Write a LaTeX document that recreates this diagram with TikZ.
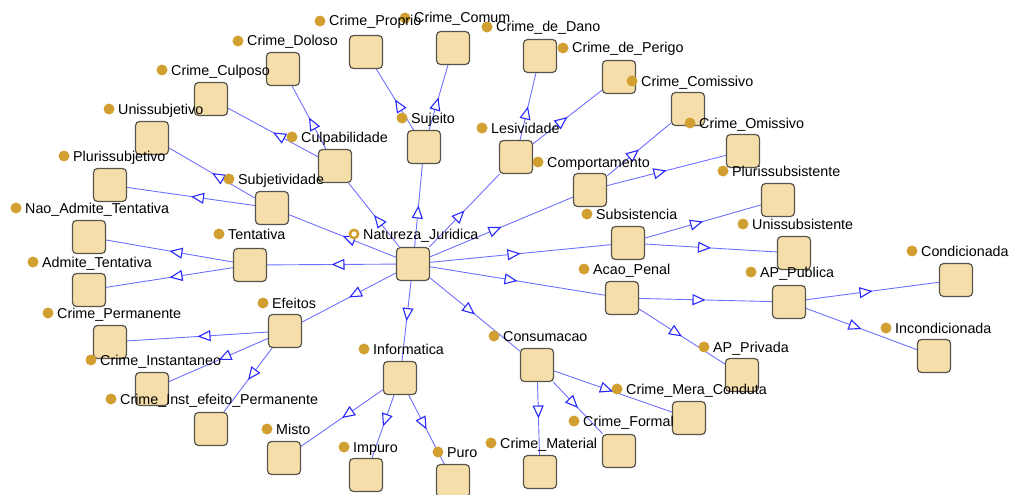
\documentclass[tikz,border=0pt]{standalone}
\usepackage{fontspec}
\setmainfont{Liberation Sans}
\usetikzlibrary{arrows.meta,decorations.markings}

\definecolor{boxfill}{RGB}{245,222,170}
\definecolor{boxline}{RGB}{88,84,76}
\definecolor{edgec}{RGB}{112,112,255}
\definecolor{tipc}{RGB}{40,40,255}
\definecolor{dotc}{RGB}{210,160,48}

\pgfdeclarelayer{links}
\pgfsetlayers{links,main}

\tikzset{
  cls/.style={draw=boxline, fill=boxfill, line width=1.2pt, rounded corners=4pt,
    minimum width=33pt, minimum height=33pt, inner sep=0pt},
  lbl/.style={inner sep=0pt, anchor=base west, font=\fontsize{14.3}{16}\selectfont},
  isa/.style={draw=edgec, line width=0.9pt, postaction={decorate},
    decoration={markings, mark=at position 0.5 with
      {\arrow[tipc, line width=1.1pt]{Triangle[open, length=13pt, width=11pt, fill=white]}}}}
}

% label of a class: gold dot followed by its name
\newcommand\clslabel[4]{%
  \fill[dotc] (#2,#3) circle (5.5pt);
  \node[lbl] (#1-l) at (#2+9,#3+5) {#4};}

\begin{document}
\begin{tikzpicture}[x=1pt,y=-1pt]
\useasboundingbox (0,0) rectangle (1012,495);

% classes
\foreach \n/\x/\y in {nat/413/264, tent/250/265, subj/272/208, culp/335/166,
  suj/424/147, les/516/157, comp/590/190, subs/628/243, acao/622/298,
  cons/537/365, info/400/378, efe/285/331, culposo/211/99, doloso/283/69,
  uniss/152/138, pluris/110/185, nao/89/237, adm/89/290, perm/110/342,
  inst/152/389, iep/211/429, misto/284/458, impuro/366/475, puro/453/481,
  material/540/472, formal/619/451, mera/689/418, priv/742/375, pub/789/302,
  cond/956/280, incond/934/356, unisub/794/253, plurisub/778/200,
  omis/743/151, comis/688/109, perigo/619/77, dano/540/56, comum/453/48,
  proprio/366/52}
  \node[cls] (\n) at (\x,\y) {};

% subclass links, beneath the boxes
\begin{pgfonlayer}{links}
\foreach \p/\c in {nat/tent, nat/subj, nat/culp, nat/suj, nat/les, nat/comp,
  nat/subs, nat/acao, nat/cons, nat/info, nat/efe,
  culp/culposo, culp/doloso, subj/uniss, subj/pluris, tent/nao, tent/adm,
  suj/proprio, suj/comum, les/dano, les/perigo, comp/comis, comp/omis,
  subs/plurisub, subs/unisub, acao/pub, acao/priv, pub/cond, pub/incond,
  cons/material, cons/formal, cons/mera, info/misto, info/impuro, info/puro,
  efe/perm, efe/inst, efe/iep}
  \draw[isa] (\p) -- (\c);
\end{pgfonlayer}

% labels
\fill[dotc] (354,234) circle (5.5pt);
\fill[white] (354,234) circle (2.6pt);
\node[lbl] (nat-l) at (363,239) {Natureza\_Juridica};
\clslabel{tent}{219}{234}{Tentativa}
\clslabel{subj}{229}{179}{Subjetividade}
\clslabel{culp}{292}{137}{Culpabilidade}
\clslabel{suj}{402}{118}{Sujeito}
\clslabel{les}{482}{128}{Lesividade}
\clslabel{comp}{538}{162}{Comportamento}
\clslabel{subs}{587}{214}{Subsistencia}
\clslabel{acao}{584}{269}{Acao\_Penal}
\clslabel{cons}{494}{336}{Consumacao}
\clslabel{info}{364}{349}{Informatica}
\clslabel{efe}{263}{303}{Efeitos}
\clslabel{culposo}{162}{70}{Crime\_Culposo}
\clslabel{doloso}{238}{41}{Crime\_Doloso}
\clslabel{uniss}{109}{109}{Unissubjetivo}
\clslabel{pluris}{64}{156}{Plurissubjetivo}
\clslabel{nao}{16}{208}{Nao\_Admite\_Tentativa}
\clslabel{adm}{33}{262}{Admite\_Tentativa}
\clslabel{perm}{48}{313}{Crime\_Permanente}
\clslabel{inst}{91}{360}{Crime\_Instantaneo}
\clslabel{iep}{111}{399}{Crime\_Inst\_efeito\_Permanente}
\clslabel{misto}{267}{429}{Misto}
\clslabel{impuro}{344}{447}{Impuro}
\clslabel{puro}{438}{452}{Puro}
\clslabel{material}{491}{443}{Crime\_Material}
\clslabel{formal}{574}{421}{Crime\_Formal}
\clslabel{mera}{617}{389}{Crime\_Mera\_Conduta}
\clslabel{priv}{704}{347}{AP\_Privada}
\clslabel{pub}{751}{272}{AP\_Publica}
\clslabel{cond}{912}{251}{Condicionada}
\clslabel{incond}{886}{328}{Incondicionada}
\clslabel{unisub}{743}{224}{Unissubsistente}
\clslabel{plurisub}{723}{171}{Plurissubsistente}
\clslabel{omis}{690}{123}{Crime\_Omissivo}
\clslabel{comis}{632}{81}{Crime\_Comissivo}
\clslabel{perigo}{563}{48}{Crime\_de\_Perigo}
\clslabel{dano}{487}{27}{Crime\_de\_Dano}
\clslabel{comum}{405}{18}{Crime\_Comum}
\clslabel{proprio}{320}{21}{Crime\_Proprio}
\end{tikzpicture}
\end{document}
